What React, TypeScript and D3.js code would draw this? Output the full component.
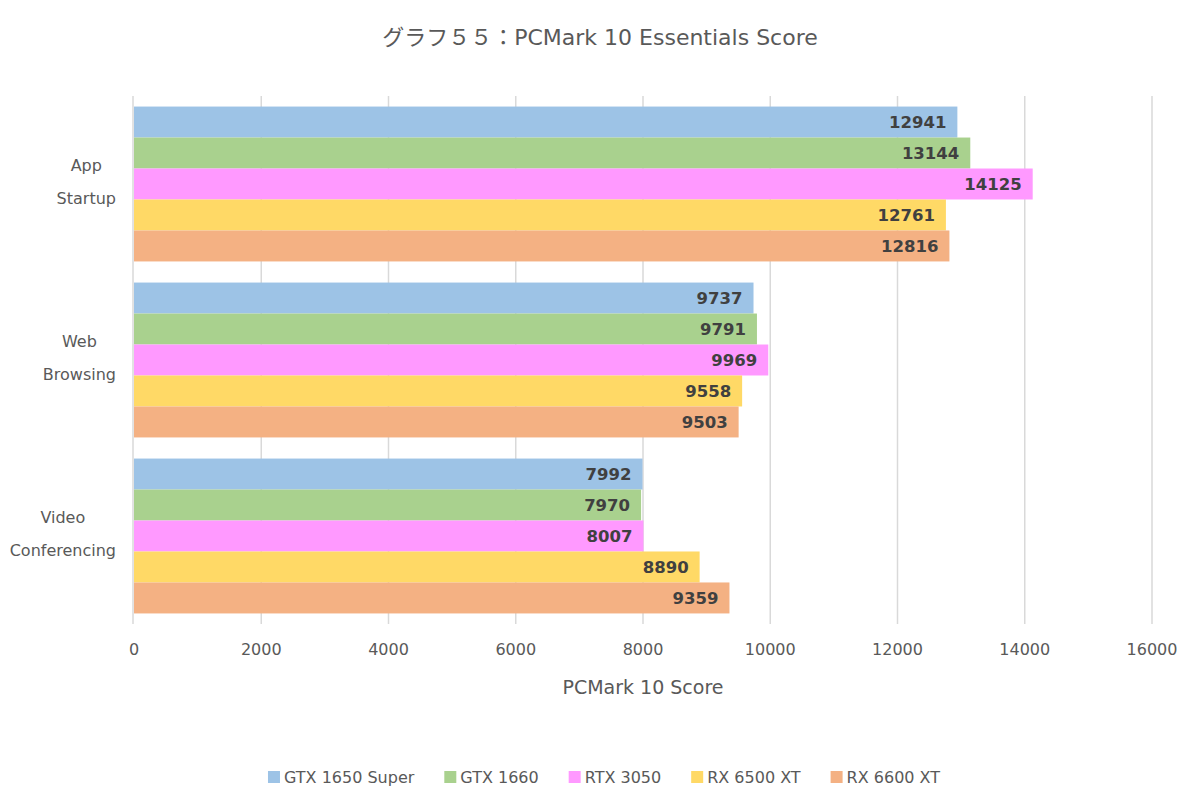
import React, { useEffect, useRef } from "react";
import * as d3 from "d3";

const categories = [["App", "Startup"], ["Web", "Browsing"], ["Video", "Conferencing"]];
const seriesNames = ["GTX 1650 Super", "GTX 1660", "RTX 3050", "RX 6500 XT", "RX 6600 XT"];
const seriesColors = ["#9DC3E6", "#A9D18E", "#FF99FF", "#FFD966", "#F4B183"];
const gtx1650s = [12941, 9737, 7992];
const gtx1660 = [13144, 9791, 7970];
const rtx3050 = [14125, 9969, 8007];
const rx6500xt = [12761, 9558, 8890];
const rx6600xt = [12816, 9503, 9359];
const xTicks = [0, 2000, 4000, 6000, 8000, 10000, 12000, 14000, 16000];

const W = 1200, H = 811;
const FONT = "'DejaVu Sans', 'Noto Sans CJK JP', sans-serif";

export default function App() {
  const ref = useRef<SVGSVGElement>(null);
  useEffect(() => {
    const svg = d3.select(ref.current);
    svg.selectAll("*").remove();
    const values = [gtx1650s, gtx1660, rtx3050, rx6500xt, rx6600xt];
    const left = 134, right = 1152, top = 96, bottom = 624;

    svg.append("rect").attr("x", 0.5).attr("y", 0.5).attr("width", W - 1).attr("height", H - 1)
      .attr("fill", "#fff").attr("stroke", "#d9d9d9").attr("stroke-width", 1.5);

    const x = d3.scaleLinear().domain([0, 16000]).range([left, right]);
    const y0 = d3.scaleBand().domain(categories.map((_, i) => String(i))).range([top, bottom]).paddingInner(0.12).paddingOuter(0.06);
    const y1 = d3.scaleBand().domain(seriesNames).range([0, y0.bandwidth()]);

    // gridlines
    svg.append("g").selectAll("line").data(xTicks.slice(1)).join("line")
      .attr("x1", d => x(d)).attr("x2", d => x(d)).attr("y1", top).attr("y2", bottom)
      .attr("stroke", "#d9d9d9").attr("stroke-width", 1.5);

    // bars
    const g = svg.append("g");
    categories.forEach((_, ci) => {
      seriesNames.forEach((s, si) => {
        const v = values[si][ci];
        const yy = (y0(String(ci)) as number) + (y1(s) as number);
        g.append("rect").attr("x", x(0)).attr("y", yy).attr("width", x(v) - x(0)).attr("height", y1.bandwidth())
          .attr("fill", seriesColors[si]);
        g.append("text").attr("x", x(v) - 11).attr("y", yy + y1.bandwidth() / 2).attr("dy", "0.36em")
          .attr("text-anchor", "end").attr("font-family", "'DejaVu Sans', Verdana, sans-serif")
          .attr("font-weight", "bold").attr("font-size", 16.5).attr("fill", "#404040").text(String(v));
      });
    });

    // left axis line
    svg.append("line").attr("x1", left - 1).attr("x2", left - 1).attr("y1", top).attr("y2", bottom)
      .attr("stroke", "#d9d9d9").attr("stroke-width", 1.5);

    // x tick labels
    svg.append("g").selectAll("text").data(xTicks).join("text")
      .attr("x", d => x(d)).attr("y", 655).attr("text-anchor", "middle")
      .attr("font-family", FONT).attr("font-size", 16).attr("fill", "#595959").text(d => String(d));

    // category labels
    categories.forEach((lines, ci) => {
      const cy = (y0(String(ci)) as number) + y0.bandwidth() / 2;
      const tg = svg.append("g");
      const texts = lines.map((l, li) => tg.append("text").attr("y", cy + (li === 0 ? -13 : 20))
        .attr("text-anchor", "middle").attr("font-family", FONT).attr("font-size", 16).attr("fill", "#595959").text(l));
      const maxW = d3.max(texts.map(t => (t.node() as SVGTextElement).getComputedTextLength())) as number;
      texts.forEach(t => t.attr("x", 116 - maxW / 2));
    });

    // title
    svg.append("text").attr("x", 600).attr("y", 45).attr("text-anchor", "middle")
      .attr("font-family", FONT).attr("font-size", 22).attr("fill", "#595959").text("グラフ５５：PCMark 10 Essentials Score");
    // axis title
    svg.append("text").attr("x", (left + right) / 2).attr("y", 694).attr("text-anchor", "middle")
      .attr("font-family", FONT).attr("font-size", 19).attr("fill", "#595959").text("PCMark 10 Score");

    // legend
    const lg = svg.append("g");
    let lx = 0;
    const gap = 30;
    seriesNames.forEach((s, si) => {
      const it = lg.append("g");
      it.append("rect").attr("x", 0).attr("y", -6).attr("width", 12).attr("height", 12).attr("fill", seriesColors[si]);
      const t = it.append("text").attr("x", 16).attr("y", 0).attr("dy", "0.35em")
        .attr("font-family", FONT).attr("font-size", 16).attr("fill", "#595959").text(s);
      const w = 16 + (t.node() as SVGTextElement).getComputedTextLength();
      it.attr("transform", `translate(${lx},777)`);
      lx += w + gap;
    });
    const total = lx - gap;
    lg.attr("transform", `translate(${604 - total / 2},0)`);
  }, []);
  return <svg ref={ref} width={W} height={H} style={{ display: "block", margin: -8 }} />;
}
